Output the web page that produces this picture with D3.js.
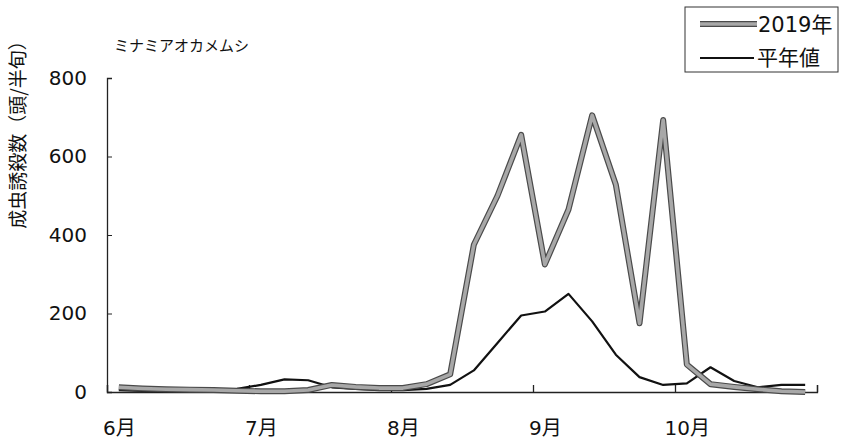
<!DOCTYPE html>
<html><head><meta charset="utf-8">
<script src="https://cdn.jsdelivr.net/npm/d3@7"></script>
<style>
body{margin:0;background:#fff;}
svg{display:block;}
text{font-family:"DejaVu Sans","Noto Sans CJK JP",sans-serif;fill:#111;}
.jp{font-family:"Noto Sans CJK JP","DejaVu Sans",sans-serif;}
</style></head>
<body>
<svg id="c" width="841" height="440"></svg>
<script>
const monthLabels = ["6月","7月","8月","9月","10月"];
const periodsPerMonth = 6;
const yTicks = [0,200,400,600,800];
const series2019 = [12,9,7,6,5,3,2,2,5,18,13,10,10,20,45,375,500,655,325,465,705,528,175,693,70,20,13,7,2,0];
const seriesNormal = [5,3,2,2,3,8,18,32,30,12,8,5,5,8,18,55,125,195,205,250,180,95,38,18,22,63,28,12,18,18];
const title = "ミナミアオカメムシ";
const yLabel = "成虫誘殺数（頭/半旬）";
const legendNames = ["2019年","平年値"];

const svg = d3.select("#c");
const n = monthLabels.length * periodsPerMonth;
const x = d3.scaleLinear().domain([0, n]).range([107, 817]);
const y = d3.scaleLinear().domain([0, 800]).range([392, 78]);

// y axis
const ya = svg.append("g").attr("transform","translate(107,0)")
  .call(d3.axisLeft(y).tickValues(yTicks).tickSize(-5).tickPadding(20));
ya.select(".domain").attr("stroke","#222").attr("stroke-width",1.3);
ya.selectAll(".tick line").attr("stroke","#222");
ya.selectAll("text").attr("font-size",20);

// x axis ticks at month boundaries
const bounds = d3.range(0, n + 1, periodsPerMonth);
const xa = svg.append("g").attr("transform","translate(0,392)")
  .call(d3.axisBottom(x).tickValues(bounds).tickSize(-7).tickFormat(""));
xa.select(".domain").attr("stroke","#222").attr("stroke-width",1.3);
xa.selectAll(".tick line").attr("stroke","#222").attr("stroke-width",1.3);

// month labels at first period of month
const labelPos = monthLabels.map((m,i)=> i*periodsPerMonth + 0.5);
const xl = svg.append("g").attr("transform","translate(0,392)")
  .call(d3.axisBottom(x).tickValues(labelPos).tickSize(0).tickPadding(29)
    .tickFormat((d,i)=>monthLabels[i]));
xl.select(".domain").remove();
xl.selectAll("text").attr("font-size",20);

// lines
const line = d3.line().x((d,i)=>x(i+0.5)).y(d=>y(d));
svg.append("path").datum(seriesNormal).attr("d",line)
  .attr("fill","none").attr("stroke","#111").attr("stroke-width",2.2).attr("stroke-linejoin","round");
svg.append("path").datum(series2019).attr("d",line)
  .attr("fill","none").attr("stroke","#4a4a4a").attr("stroke-width",6).attr("stroke-linejoin","round");
svg.append("path").datum(series2019).attr("d",line)
  .attr("fill","none").attr("stroke","#a8a8a8").attr("stroke-width",3.6).attr("stroke-linejoin","round");

// title
svg.append("text").attr("class","jp").attr("x",114).attr("y",51).attr("font-size",15).text(title);

// y label
svg.append("text").attr("class","jp")
  .attr("transform","translate(25,130) rotate(-90)")
  .attr("text-anchor","middle").attr("font-size",19).text(yLabel);

// legend
svg.append("rect").attr("x",685).attr("y",7).attr("width",153).attr("height",65)
  .attr("fill","#fff").attr("stroke","#333").attr("stroke-width",1);
svg.append("line").attr("x1",700).attr("x2",757).attr("y1",24).attr("y2",24)
  .attr("stroke","#4a4a4a").attr("stroke-width",6);
svg.append("line").attr("x1",700).attr("x2",757).attr("y1",24).attr("y2",24)
  .attr("stroke","#a8a8a8").attr("stroke-width",3.6);
svg.append("line").attr("x1",700).attr("x2",754).attr("y1",58).attr("y2",58)
  .attr("stroke","#111").attr("stroke-width",2.2);
svg.append("text").attr("x",758).attr("y",32).attr("font-size",21).text(legendNames[0]);
svg.append("text").attr("class","jp").attr("x",757).attr("y",65).attr("font-size",21).text(legendNames[1]);
</script>
</body></html>
